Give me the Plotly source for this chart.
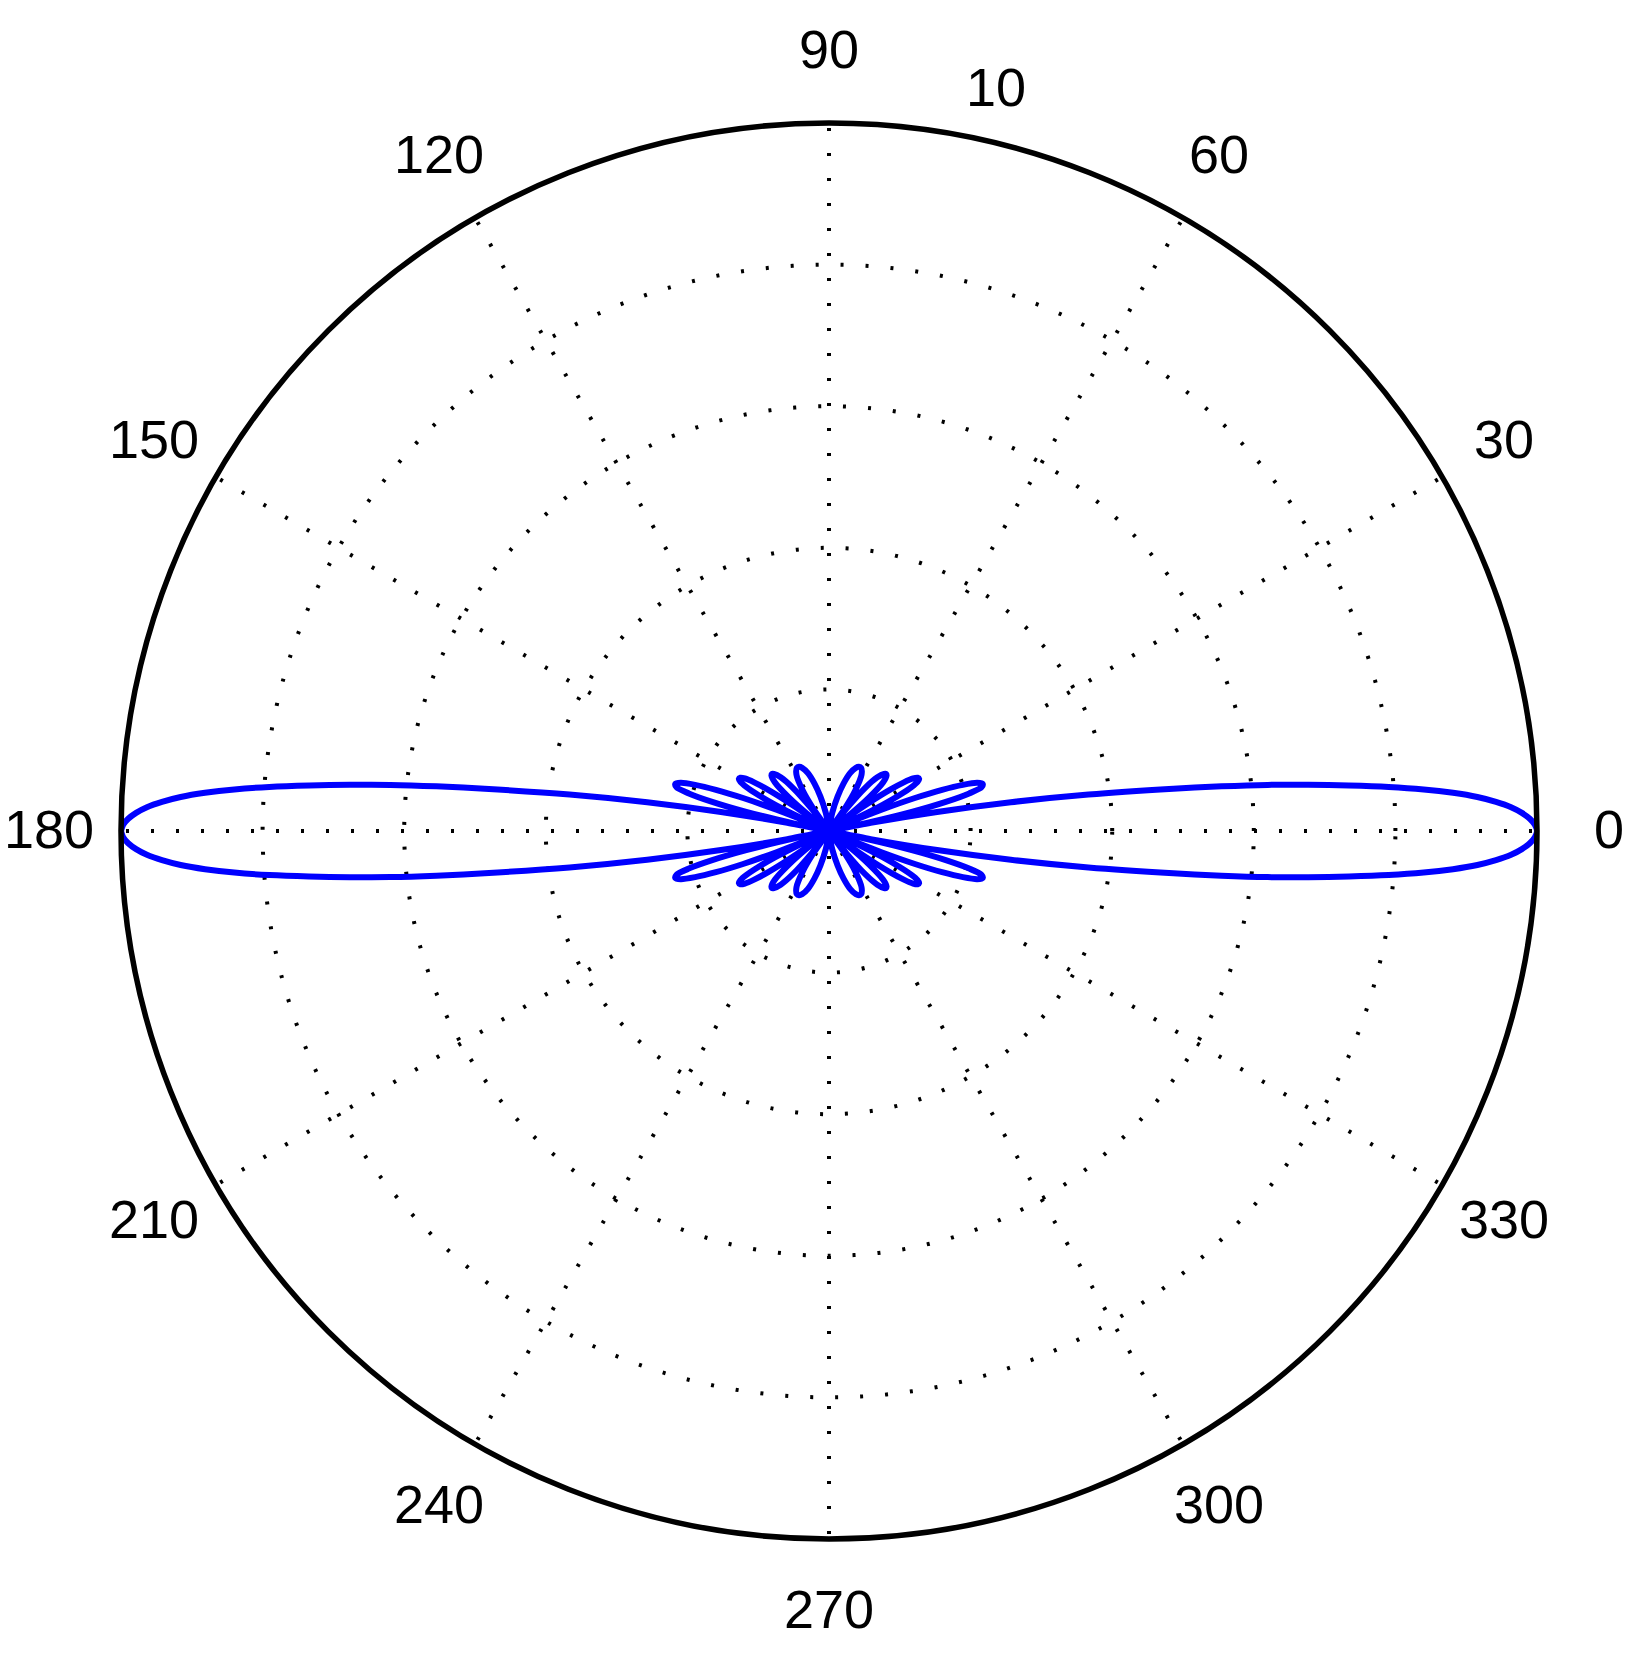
import numpy as np
import plotly.graph_objects as go

# Pattern for the first quadrant (degrees, radius);
# the plotted curve is symmetric about both axes.
theta_q = [0, 0.5, 1, 1.5, 2, 2.5, 3, 3.5, 4, 4.5, 5, 5.5, 6, 6.5, 7, 8, 9, 10, 11, 11.5,
           12, 13, 14, 15, 16, 17, 18, 19, 20, 21, 22, 23, 23.6,
           25, 26, 27, 28, 29, 30, 31, 32, 33, 34, 35, 36, 36.9,
           38, 40, 42, 44, 45, 46, 48, 50, 52, 53.1,
           55, 57, 60, 63, 65, 67, 70, 73, 76, 80, 85, 90]
r_q = [10.0, 9.97, 9.90, 9.79, 9.64, 9.43, 9.17, 8.83, 8.42, 7.93, 7.37, 6.80, 6.23, 5.58, 4.90,
       3.70, 2.60, 1.55, 0.60, 0.0,
       0.50, 1.20, 1.70, 2.05, 2.24, 2.27, 2.20, 2.00, 1.70, 1.30, 0.80, 0.30, 0.0,
       0.50, 0.85, 1.12, 1.32, 1.43, 1.47, 1.46, 1.40, 1.26, 1.05, 0.75, 0.40, 0.0,
       0.35, 0.75, 1.03, 1.13, 1.14, 1.12, 1.02, 0.80, 0.40, 0.0,
       0.40, 0.68, 0.92, 1.00, 1.00, 0.97, 0.87, 0.70, 0.50, 0.26, 0.06, 0.0]

angle_ticks = [0, 30, 60, 90, 120, 150, 180, 210, 240, 270, 300, 330]
angle_labels = [str(a) for a in angle_ticks]
ring_vals = [2, 4, 6, 8, 10]
r_max = 10
radial_label = "10"

tq = np.array(theta_q, dtype=float)
rq = np.array(r_q, dtype=float)
theta_full = np.concatenate([tq, 180 - tq[::-1], 180 + tq, 360 - tq[::-1]])
r_full = np.concatenate([rq, rq[::-1], rq, rq[::-1]])

W, H = 1648, 1675
cx, cy, R = 829, 831, 708
label_rad = 780

fig = go.Figure()
fig.add_trace(go.Scatterpolar(
    theta=theta_full, r=r_full, mode="lines",
    line=dict(color="#0000ff", width=6, shape="spline", smoothing=0.8),
    showlegend=False, hoverinfo="skip"))

font = dict(family="Liberation Sans, Arial, Helvetica, sans-serif", size=54, color="black")
dot = "3px,22px"

annotations = []
for a, lab in zip(angle_ticks, angle_labels):
    px = cx + label_rad * np.cos(np.radians(a))
    py = cy - label_rad * np.sin(np.radians(a)) - 2
    annotations.append(dict(text=lab, x=px / W, y=1 - py / H, xref="paper", yref="paper",
                            showarrow=False, font=font, xanchor="center", yanchor="middle"))
annotations.append(dict(text=radial_label, x=996 / W, y=1 - 87 / H, xref="paper", yref="paper",
                        showarrow=False, font=font, xanchor="center", yanchor="middle"))

fig.update_layout(
    width=W, height=H,
    margin=dict(l=0, r=0, t=0, b=0),
    paper_bgcolor="white",
    plot_bgcolor="white",
    showlegend=False,
    polar=dict(
        domain=dict(x=[(cx - R) / W, (cx + R) / W],
                    y=[(H - cy - R) / H, (H - cy + R) / H]),
        bgcolor="white",
        radialaxis=dict(range=[0, r_max], tickvals=ring_vals, showticklabels=False,
                        ticks="", showline=False, showgrid=True,
                        gridcolor="black", gridwidth=3.5, griddash=dot),
        angularaxis=dict(rotation=0, direction="counterclockwise",
                         tickvals=angle_ticks, showticklabels=False, ticks="",
                         showline=True, linecolor="black", linewidth=5.5,
                         showgrid=True, gridcolor="black", gridwidth=3.5, griddash=dot),
    ),
    annotations=annotations,
)

fig.write_html("out.html", config={"displayModeBar": False},
               post_script="document.body.style.margin='0px';")
